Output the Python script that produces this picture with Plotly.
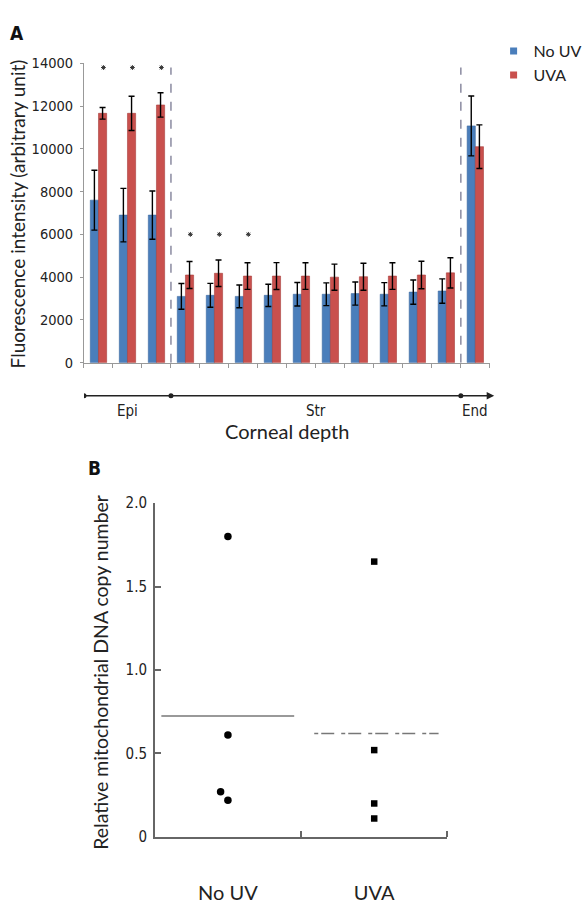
import numpy as np
import plotly.graph_objects as go

W, H = 587, 904

# ---------------- Panel A data ----------------
depth_idx = list(range(14))
regions = ["Epi", "Str", "End"]
region_sizes = [3, 10, 1]
no_uv = [7600, 6900, 6900, 3100, 3150, 3100, 3150, 3200, 3200, 3230, 3200, 3300, 3350, 11070]
no_uv_err = [1400, 1250, 1130, 600, 560, 530, 520, 550, 530, 540, 545, 570, 570, 1400]
uva = [11660, 11660, 12050, 4100, 4180, 4050, 4050, 4050, 4000, 4020, 4050, 4100, 4200, 10100]
uva_err = [270, 800, 570, 630, 620, 620, 630, 620, 610, 630, 620, 640, 710, 1020]
sig_idx = [0, 1, 2, 3, 4, 5]
sig_y = [13800, 13800, 13800, 6000, 6000, 6000]
ya_ticks = [0, 2000, 4000, 6000, 8000, 10000, 12000, 14000]
ya_ticktext = ["0", "2000", "4000", "6000", "8000", "10000", "12000", "14000"]

# ---------------- Panel B data ----------------
groups = ["No UV", "UVA"]
nouv_vals = [1.80, 0.61, 0.27, 0.22]
nouv_jitter = [0, 0, -0.05, 0]
uva_vals = [1.65, 0.52, 0.20, 0.11]
uva_jitter = [0, 0, 0, 0]
yb_ticks = [0, 0.5, 1.0, 1.5, 2.0]
yb_ticktext = ["0", "0.5", "1.0", "1.5", "2.0"]

BLUE = "#4a7ebb"
RED = "#c9504d"
COND = "Liberation Sans Narrow, DejaVu Sans Condensed, Roboto Condensed, Roboto"
SANS = "Lato, Noto Sans, sans-serif"

def px_y(p):
    return 1 - p / H

def px_x(p):
    return p / W

fig = go.Figure()

fig.add_trace(go.Bar(
    x=depth_idx, y=no_uv, name="No UV", marker=dict(color=BLUE, line=dict(color="#3a68a0", width=0.6)),
    error_y=dict(type="data", array=no_uv_err, color="black", thickness=1.4, width=3),
    xaxis="x", yaxis="y", showlegend=False))
fig.add_trace(go.Bar(
    x=depth_idx, y=uva, name="UVA", marker=dict(color=RED, line=dict(color="#a83e3b", width=0.6)),
    error_y=dict(type="data", array=uva_err, color="black", thickness=1.4, width=3),
    xaxis="x", yaxis="y", showlegend=False))

# legend entries
fig.add_trace(go.Scatter(x=[None], y=[None], mode="markers", name="No UV",
                         marker=dict(symbol="square", size=7, color=BLUE), xaxis="x", yaxis="y"))
fig.add_trace(go.Scatter(x=[None], y=[None], mode="markers", name="UVA",
                         marker=dict(symbol="square", size=7, color=RED), xaxis="x", yaxis="y"))

# significance stars
fig.add_trace(go.Scatter(
    x=[i + 0.17 for i in sig_idx], y=sig_y, mode="markers",
    marker=dict(symbol="asterisk-open", size=4, color="#333", line=dict(color="#333", width=1)),
    xaxis="x", yaxis="y", showlegend=False, cliponaxis=False, hoverinfo="skip"))

# Panel B points
fig.add_trace(go.Scatter(
    x=[0 + j for j in nouv_jitter], y=nouv_vals, mode="markers",
    marker=dict(symbol="circle", size=7.5, color="black"),
    xaxis="x2", yaxis="y2", showlegend=False, cliponaxis=False))
fig.add_trace(go.Scatter(
    x=[1 + j for j in uva_jitter], y=uva_vals, mode="markers",
    marker=dict(symbol="square", size=6.5, color="black"),
    xaxis="x2", yaxis="y2", showlegend=False, cliponaxis=False))

shapes = []
annotations = []

# region boundaries
bounds = [-0.5] + list(np.cumsum(region_sizes) - 0.5)
for b in bounds[1:-1]:
    shapes.append(dict(type="line", xref="x", yref="y", x0=b, x1=b, y0=0, y1=13800,
                       line=dict(color="#8a8aa0", width=1.5, dash="dash")))

# depth arrow
arrow_y = px_y(399)
annotations.append(dict(x=bounds[-1] + 0.15, y=arrow_y, xref="x", yref="paper",
                        ax=bounds[0], ay=0, axref="x", ayref="pixel",
                        showarrow=True, arrowhead=2, arrowsize=1, arrowwidth=1.5,
                        arrowcolor="#222", text="", standoff=0, startstandoff=0))
for b in bounds[:-1]:
    shapes.append(dict(type="circle", xref="x", yref="paper", xsizemode="pixel", ysizemode="pixel",
                       xanchor=b, yanchor=arrow_y, x0=-2.5, x1=2.5, y0=-2.5, y1=2.5,
                       fillcolor="#222", line=dict(width=0)))
for name, lo, hi in zip(regions, bounds[:-1], bounds[1:]):
    annotations.append(dict(x=(lo + hi) / 2, y=px_y(415), xref="x", yref="paper",
                            text=name, showarrow=False, xanchor="center", yanchor="middle",
                            font=dict(family=COND, size=15, color="#222")))
annotations.append(dict(x=0.5, y=px_y(436), xref="x domain", yref="paper", text="Corneal depth",
                        showarrow=False, xanchor="center", yanchor="middle",
                        font=dict(family=SANS, size=20, color="#222")))

# titles
annotations.append(dict(x=px_x(19), y=px_y(211), xref="paper", yref="paper",
                        text="Fluorescence intensity (arbitrary unit)", textangle=-90,
                        showarrow=False, xanchor="center", yanchor="middle",
                        font=dict(family=SANS, size=19, color="#222")))
annotations.append(dict(x=px_x(107), y=px_y(684), xref="paper", yref="paper",
                        text="Relative mitochondrial DNA copy number", textangle=-90,
                        showarrow=False, xanchor="center", yanchor="middle",
                        font=dict(family=SANS, size=19.5, color="#222")))
annotations.append(dict(x=px_x(17.5), y=px_y(25), xref="paper", yref="paper", text="<b>A</b>",
                        showarrow=False, xanchor="center", yanchor="middle",
                        font=dict(family=COND, size=19, color="#111")))
annotations.append(dict(x=px_x(100.5), y=px_y(474), xref="paper", yref="paper", text="<b>B</b>",
                        showarrow=False, xanchor="center", yanchor="middle",
                        font=dict(family=COND, size=19, color="#111")))

# mean lines panel B
means = [float(np.mean(nouv_vals)), float(np.mean(uva_vals))]
shapes.append(dict(type="line", xref="x2", yref="y2", x0=0 - 0.455, x1=0 + 0.453, y0=means[0], y1=means[0],
                   line=dict(color="#777", width=1.5)))
shapes.append(dict(type="line", xref="x2", yref="y2", x0=1 - 0.41, x1=1 + 0.44, y0=means[1], y1=means[1],
                   line=dict(color="#777", width=1.5, dash="4px,3px,13px,7px")))

fig.update_layout(
    width=W, height=H, margin=dict(l=0, r=0, t=0, b=0),
    paper_bgcolor="white", plot_bgcolor="white",
    barmode="group", bargap=0.437, bargroupgap=0,
    font=dict(family=SANS, color="#222"),
    showlegend=True,
    legend=dict(x=px_x(523), y=px_y(26), xanchor="left", yanchor="top",
                font=dict(family=SANS, size=16, color="#222"), bgcolor="rgba(0,0,0,0)",
                tracegroupgap=0, itemwidth=30),
    xaxis=dict(domain=[px_x(89), px_x(519)], range=[-0.5, 13.5], anchor="y",
               tickmode="array", tickvals=[i - 0.5 for i in range(len(depth_idx) + 1)],
               showticklabels=False, ticks="outside", ticklen=4, tickcolor="#999",
               showline=True, linecolor="#999", linewidth=1, showgrid=False, zeroline=False),
    yaxis=dict(domain=[px_y(365), px_y(56)], range=[0, 14000], anchor="x",
               tickmode="array", tickvals=ya_ticks, ticktext=ya_ticktext,
               ticks="outside", ticklen=3, tickcolor="#999",
               tickfont=dict(family=COND, size=14.5, color="#222"), ticklabelstandoff=4,
               showline=True, linecolor="#999", linewidth=1, showgrid=False, zeroline=False),
    xaxis2=dict(domain=[px_x(164), px_x(474)], range=[-0.5, 1.5], anchor="y2",
                tickmode="array", tickvals=[0, 1], ticktext=groups, ticks="",
                tickfont=dict(family=SANS, size=20, color="#222"), ticklabelstandoff=37,
                minor=dict(tickmode="array", tickvals=[0.5, 1.5], ticks="inside", ticklen=6,
                           tickcolor="#666", tickwidth=1.5),
                showline=True, linecolor="#666", linewidth=1.5, showgrid=False, zeroline=False),
    yaxis2=dict(domain=[px_y(854.3), px_y(510)], range=[0, 2.0], anchor="x2",
                tickmode="array", tickvals=yb_ticks, ticktext=yb_ticktext,
                ticks="inside", ticklen=6, tickcolor="#666", tickwidth=1.5,
                tickfont=dict(family=COND, size=15, color="#222"), ticklabelstandoff=3,
                showline=True, linecolor="#666", linewidth=1.5, showgrid=False, zeroline=False),
    shapes=shapes, annotations=annotations,
)

fig.write_html("out.html")
